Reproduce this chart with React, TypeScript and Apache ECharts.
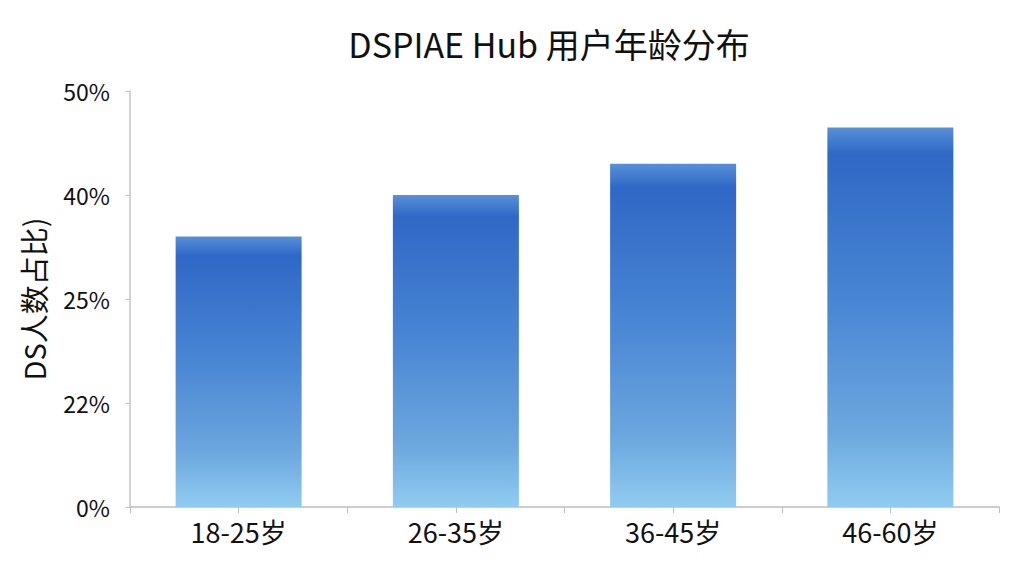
import React, { useEffect, useRef } from "react";
import * as echarts from "echarts";

// 数据
const categories = ["18-25岁", "26-35岁", "36-45岁", "46-60岁"];
const shares = [34, 40, 43, 46.5]; // 百分比
const tickValues = [0, 22, 25, 40, 50];
const tickLabels = ["0%", "22%", "25%", "40%", "50%"];

// 刻度间距相等但数值不等，按段映射到轴位置
const toAxis = (v: number) => {
  for (let i = 0; i < tickValues.length - 1; i++) {
    const a = tickValues[i];
    const b = tickValues[i + 1];
    if (v <= b) return i + (v - a) / (b - a);
  }
  return tickValues.length - 1;
};

const FONT = "'Noto Sans CJK SC', 'Noto Sans', sans-serif";

const App = () => {
  const chartRef = useRef<HTMLDivElement | null>(null);

  useEffect(() => {
    document.body.style.margin = "0";
    if (!chartRef.current) return;
    const myChart = echarts.init(chartRef.current, null, { renderer: "svg" });

    const barColor = new echarts.graphic.LinearGradient(0, 0, 0, 1, [
      { offset: 0, color: "#5890d8" },
      { offset: 0.07, color: "#2f68c6" },
      { offset: 0.45, color: "#4885d3" },
      { offset: 0.8, color: "#6ca7de" },
      { offset: 1, color: "#90ccf0" },
    ]);

    const option = {
      animation: false,
      backgroundColor: "#ffffff",
      title: {
        text: "DSPIAE Hub 用户年龄分布",
        left: 544,
        textAlign: "center",
        top: 21,
        textStyle: { fontFamily: FONT, fontSize: 34, fontWeight: "normal", color: "#111" },
      },
      grid: { left: 130, right: 25, top: 91, bottom: 69 },
      xAxis: [
        {
          type: "category",
          data: categories,
          axisLine: { lineStyle: { color: "#bdbdbd", width: 1.5 } },
          axisTick: { show: true, alignWithLabel: true, length: 6, lineStyle: { color: "#bdbdbd" } },
          axisLabel: { fontFamily: FONT, fontSize: 27, color: "#111", margin: 11 },
        },
        {
          type: "category",
          position: "bottom",
          data: ["", "", "", ""],
          axisLine: { show: false },
          axisTick: { show: true, length: 6, lineStyle: { color: "#bdbdbd" } },
          axisLabel: { show: false },
        },
      ],
      yAxis: {
        type: "value",
        min: 0,
        max: tickValues.length - 1,
        interval: 1,
        name: "DS人数占比)",
        nameLocation: "middle",
        nameGap: 83,
        nameTextStyle: { fontFamily: FONT, fontSize: 29, color: "#111" },
        axisLine: { show: true, lineStyle: { color: "#c4c4c4", width: 1.5 } },
        axisTick: { show: true, length: 5, lineStyle: { color: "#c4c4c4" } },
        splitLine: { show: false },
        axisLabel: {
          fontFamily: FONT,
          fontSize: 23,
          color: "#111",
          margin: 20,
          formatter: (v: number) => tickLabels[Math.round(v)] ?? "",
        },
      },
      series: [
        {
          type: "bar",
          xAxisIndex: 0,
          data: shares.map((s) => toAxis(s)),
          barWidth: "58%",
          itemStyle: { color: barColor },
        },
      ],
    };

    myChart.setOption(option);
    return () => {
      myChart.dispose();
    };
  }, []);

  return <div ref={chartRef} style={{ width: "1024px", height: "576px" }}></div>;
};

export default App;
